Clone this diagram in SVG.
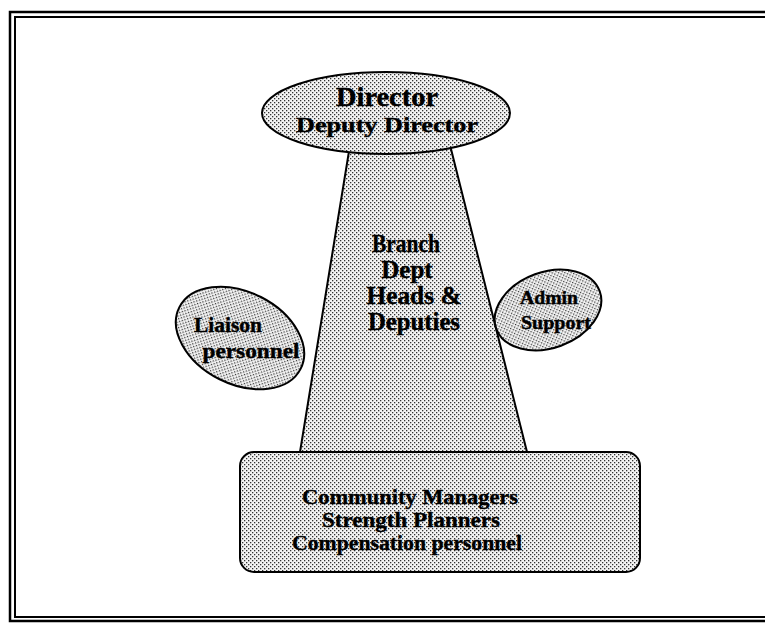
<svg xmlns="http://www.w3.org/2000/svg" width="765" height="626" viewBox="0 0 765 626">
  <defs>
    <pattern id="dots" width="4" height="4" patternUnits="userSpaceOnUse">
      <rect width="4" height="4" fill="#f4f4f4"/>
      <rect x="0" y="0" width="1.3" height="1.3" fill="#333"/>
      <rect x="2" y="2" width="1.3" height="1.3" fill="#333"/>
    </pattern>
    <style>
      .shape { fill: url(#dots); stroke: #000; stroke-width: 2; }
      .frame { fill: none; stroke: #000; }
      text { font-family: "Liberation Serif", "Times New Roman", serif; font-weight: bold; fill: #000; stroke: #000; stroke-width: 0.4; text-anchor: middle; }
    </style>
  </defs>
  <rect width="765" height="626" fill="#fff"/>
  <g id="frame">
    <path class="frame" d="M770,12 H10 V621 H770" stroke-width="2.5"/>
    <path class="frame" d="M770,17 H15 V617 H770" stroke-width="2"/>
  </g>
  <g id="dept-heads">
    <polygon class="shape" points="350,145 450,145 527,452 300,452"/>
    <text x="406" y="252" font-size="25" textLength="68" lengthAdjust="spacingAndGlyphs">Branch</text>
    <text x="407" y="278" font-size="25">Dept</text>
    <text x="414" y="304" font-size="25" textLength="95" lengthAdjust="spacingAndGlyphs">Heads &amp;</text>
    <text x="414" y="330" font-size="25" textLength="92" lengthAdjust="spacingAndGlyphs">Deputies</text>
  </g>
  <g id="director">
    <ellipse class="shape" cx="386" cy="113" rx="124" ry="41"/>
    <text x="387" y="106" font-size="27" textLength="102" lengthAdjust="spacingAndGlyphs">Director</text>
    <text x="387" y="132" font-size="22" textLength="182" lengthAdjust="spacingAndGlyphs">Deputy Director</text>
  </g>
  <g id="staff">
    <rect class="shape" x="240" y="452" width="400" height="120" rx="14"/>
    <text x="410" y="504" font-size="22" textLength="216" lengthAdjust="spacingAndGlyphs">Community Managers</text>
    <text x="411" y="527" font-size="22" textLength="178" lengthAdjust="spacingAndGlyphs">Strength Planners</text>
    <text x="407" y="550" font-size="22" textLength="230" lengthAdjust="spacingAndGlyphs">Compensation personnel</text>
  </g>
  <g id="liaison">
    <ellipse class="shape" cx="240" cy="338" rx="68" ry="46" transform="rotate(27 240 338)"/>
    <text x="228" y="332" font-size="21" textLength="68" lengthAdjust="spacingAndGlyphs">Liaison</text>
    <text x="251" y="358" font-size="21" textLength="97" lengthAdjust="spacingAndGlyphs">personnel</text>
  </g>
  <g id="admin">
    <ellipse class="shape" cx="548" cy="310" rx="55" ry="38" transform="rotate(-20 548 310)"/>
    <text x="549" y="304" font-size="19" textLength="58" lengthAdjust="spacingAndGlyphs">Admin</text>
    <text x="556" y="329" font-size="19" textLength="70" lengthAdjust="spacingAndGlyphs">Support</text>
  </g>
  <g id="connectors"/>
</svg>
